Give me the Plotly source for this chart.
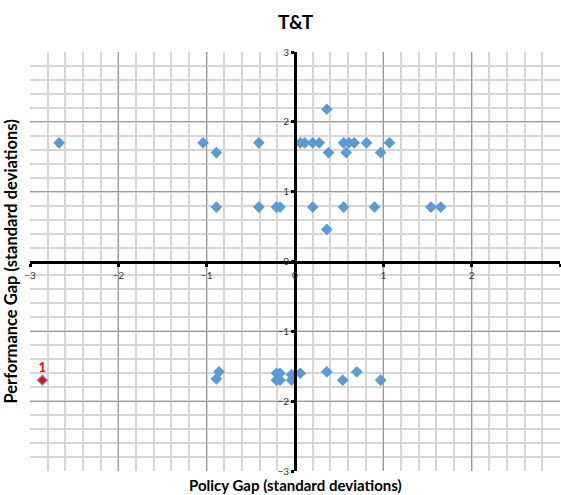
import plotly.graph_objects as go

# Policy gap (x) vs performance gap (y), in standard deviations
policy_gap = [
    -2.67, -1.04, -0.89, -0.41, -0.89, -0.41, -0.21, -0.17,
    0.06, 0.11, 0.20, 0.275, 0.36, 0.38, 0.55, 0.58, 0.61, 0.67,
    0.81, 0.97, 1.07, 0.20, 0.55, 0.90, 0.36, 1.54, 1.65,
    -2.86, -0.89, -0.86, -0.21, -0.17, -0.21, -0.17, -0.04, -0.04,
    0.06, 0.36, 0.54, 0.70, 0.97,
]
performance_gap = [
    1.70, 1.70, 1.56, 1.70, 0.78, 0.78, 0.78, 0.78,
    1.70, 1.70, 1.70, 1.70, 2.18, 1.56, 1.70, 1.56, 1.70, 1.70,
    1.70, 1.56, 1.70, 0.78, 0.78, 0.78, 0.46, 0.78, 0.78,
    -1.70, -1.68, -1.58, -1.60, -1.60, -1.70, -1.70, -1.62, -1.70,
    -1.60, -1.58, -1.70, -1.58, -1.70,
]

# Highlighted observation
highlight_x = [-2.86]
highlight_y = [-1.70]
highlight_label = ["1"]

tick_vals = [-3, -2, -1, 0, 1, 2, 3]

BLUE = "#5B9BD5"
FONT = "Lato"

fig = go.Figure()
fig.add_trace(go.Scatter(
    x=policy_gap, y=performance_gap, mode="markers",
    marker=dict(symbol="diamond", size=9, color=BLUE),
    hoverinfo="x+y",
))
fig.add_trace(go.Scatter(
    x=highlight_x, y=highlight_y, mode="markers+text",
    text=highlight_label, textposition="top center",
    textfont=dict(family=FONT, size=13, color="#FF0000", weight="bold"),
    marker=dict(symbol="diamond", size=7, color="#FF0000",
                line=dict(color=BLUE, width=1)),
    hoverinfo="x+y",
))

axis_common = dict(
    range=[-3, 3], tickvals=tick_vals, showgrid=True,
    gridcolor="#9a9a9a", gridwidth=1,
    minor=dict(dtick=0.2, showgrid=True, gridcolor="#d6d6d6", gridwidth=1.5),
    showline=True, linecolor="black", linewidth=3,
    ticks="outside", ticklen=3, tickwidth=3, tickcolor="black",
    zeroline=False, anchor="free", position=0.5, automargin=False,
    tickfont=dict(family=FONT, size=10, color="#333"),
)

fig.update_layout(
    width=561, height=495,
    margin=dict(l=30, r=1, t=52, b=24, autoexpand=False),
    paper_bgcolor="white", plot_bgcolor="white",
    showlegend=False,
    title=dict(text="<b>T&T</b>", x=0.527, xanchor="center",
               y=0.955, yanchor="middle",
               font=dict(family=FONT, size=19, color="black")),
    xaxis=axis_common,
    yaxis=axis_common,
)

fig.add_annotation(
    text="<b>Policy Gap (standard deviations)</b>", xref="paper", yref="paper",
    x=0.5, y=-0.057, xanchor="center", yanchor="bottom", showarrow=False,
    borderpad=0, font=dict(family=FONT, size=15, color="black"),
)
fig.add_annotation(
    text="<b>Performance Gap (standard deviations)</b>", xref="paper", yref="paper",
    x=-0.015, y=0.5, xanchor="right", yanchor="middle", showarrow=False,
    textangle=-90, font=dict(family=FONT, size=16.5, color="black"),
)

# the page body has an 8px default margin; drop it so the figure sits at 0,0
fig.write_html(
    "out.html",
    config={"displayModeBar": False},
    post_script="document.body.style.margin = '0';",
)
